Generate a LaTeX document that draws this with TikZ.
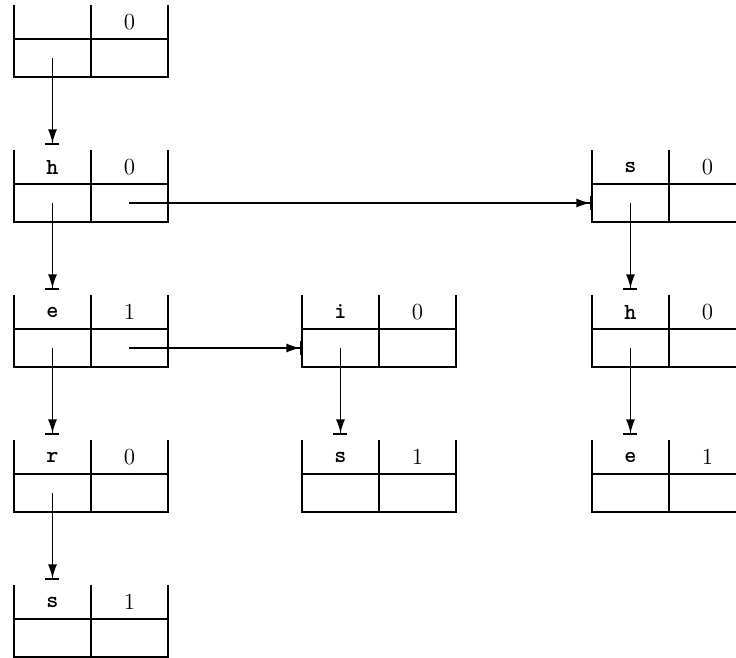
\documentclass[tikz,border=0pt]{standalone}
\usetikzlibrary{positioning, arrows.meta}
\tikzstyle{cell}=[rectangle, minimum width=38.5pt, minimum height=17pt, inner sep=0pt, outer sep=0pt]
\tikzstyle{low}=[cell, minimum height=19pt]
\tikzstyle{link}=[-{Latex[length=7pt,width=4.5pt]Bar[width=7pt]}, line width=0.8pt]
\tikzstyle{down}=[link, shorten >=2.5pt]
\tikzstyle{every node}=[font=\fontsize{11.5}{14}\selectfont]
\newcommand{\trienode}[4]{%
  \node[cell, #2] (#1) {\texttt{\bfseries #3}};
  \node[cell, right=0pt of #1] (#1c) {#4};
  \node[low, below=0pt of #1] (#1p) {};
  \node[low, right=0pt of #1p] (#1n) {};
  \draw (#1.north west) -- (#1p.south west) -- (#1n.south east) -- (#1c.north east);
  \draw (#1.north east) -- (#1p.south east);
  \draw (#1.south west) -- (#1c.south east);
}

\begin{document}
\begin{tikzpicture}[line width=1.1pt]
    \useasboundingbox (0,0) rectangle (368pt,-329pt);
    \clip (0,0) rectangle (368pt,-329pt);
    \trienode{root}{at={(7pt,-2.5pt)}, anchor=north west}{}{0}
    \trienode{h}{below=36.5pt of rootp}{h}{0}
    \trienode{he}{below=36.5pt of hp}{e}{1}
    \trienode{her}{below=36.5pt of hep}{r}{0}
    \trienode{hers}{below=36.5pt of herp}{s}{1}
    \trienode{hi}{right=67pt of hec}{i}{0}
    \trienode{his}{below=36.5pt of hip}{s}{1}
    \trienode{s}{right=212pt of hc}{s}{0}
    \trienode{sh}{below=36.5pt of sp}{h}{0}
    \trienode{she}{below=36.5pt of shp}{e}{1}
    \draw[down] (rootp.center) -- (h.north);
    \draw[down] (hp.center) -- (he.north);
    \draw[down] (hep.center) -- (her.north);
    \draw[down] (herp.center) -- (hers.north);
    \draw[down] (hip.center) -- (his.north);
    \draw[down] (sp.center) -- (sh.north);
    \draw[down] (shp.center) -- (she.north);
    \draw[link] (hn.center) -- (sp.west);
    \draw[link] (hen.center) -- (hip.west);
\end{tikzpicture}
\end{document}
